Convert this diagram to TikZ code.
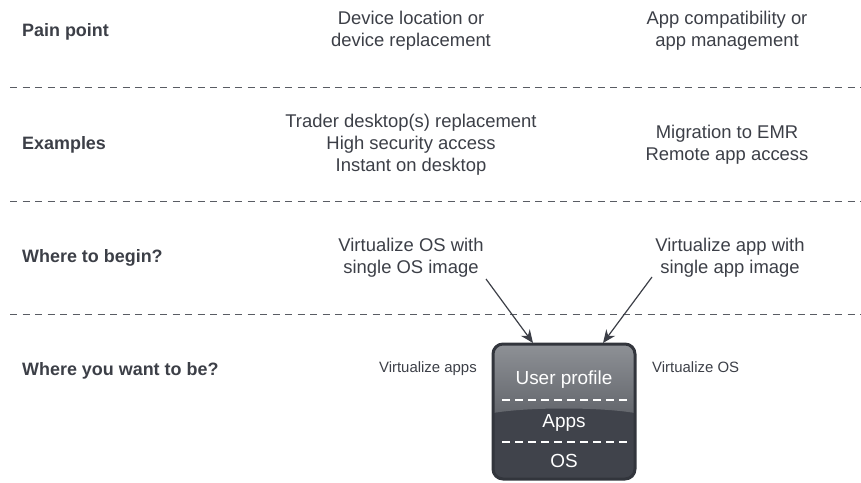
\documentclass[tikz,border=0pt]{standalone}
\usepackage{fontspec}
\setmainfont{Liberation Sans}
\usetikzlibrary{arrows.meta}

\definecolor{texto}{RGB}{60,63,71}
\definecolor{caja}{RGB}{64,67,75}
\definecolor{borde}{RGB}{50,53,60}
\definecolor{cajaclara}{RGB}{142,145,150}
\definecolor{cajamedia}{RGB}{100,103,109}

\tikzset{
  etiqueta/.style={anchor=base west, inner sep=0pt, text=texto, font=\bfseries\fontsize{18}{22}\selectfont},
  celda/.style={align=center, inner sep=0pt, text=texto, font=\fontsize{18.5}{22}\selectfont},
  notita/.style={inner sep=0pt, text=texto, font=\fontsize{15}{18}\selectfont},
  capa/.style={anchor=base, inner sep=0pt, text=white, font=\fontsize{19}{22}\selectfont},
  separador/.style={draw=texto!85, line width=0.9bp, dash pattern=on 7bp off 5.5bp},
  rayita/.style={draw=white, line width=1.3bp, dash pattern=on 8bp off 5bp},
  flecha/.style={draw=texto, line width=1.2bp, -{Stealth[length=13bp,width=11bp]}}
}

\begin{document}
\begin{tikzpicture}[x=1bp, y=-1bp]
\useasboundingbox (0,0) rectangle (861,483);

% Las etiquetas de cada fila, a la izquierda
\node[etiqueta] (dolor) at (22,36.5) {Pain point};
\node[etiqueta] (ejemplos) at (22,149.5) {Examples};
\node[etiqueta] (empezar) at (22,262.5) {Where to begin?};
\node[etiqueta] (llegar) at (22,375) {Where you want to be?};

% Las lineas discontinuas que separan filas
\draw[separador] (10,87) -- (861,87);
\draw[separador] (10,201) -- (861,201);
\draw[separador] (10,314) -- (861,314);

% Columna del SO
\node[celda] (dolorSO) at (411,31) {Device location or\\device replacement};
\node[celda] (ejemplosSO) at (411,145) {Trader desktop(s) replacement\\High security access\\Instant on desktop};
\node[celda] (empezarSO) at (411,258) {Virtualize OS with\\single OS image};

% Columna de las apps
\node[celda] (dolorApp) at (727,31) {App compatibility or\\app management};
\node[celda] (ejemplosApp) at (727,145) {Migration to EMR\\Remote app access};
\node[celda] (empezarApp) at (730,258) {Virtualize app with\\single app image};

% La caja con las capas: primero el fondo oscuro, luego el degradado de arriba
\begin{scope}
  \clip[rounded corners=10bp] (493,344) rectangle (635,479);
  \fill[caja] (493,344) rectangle (635,479);
  \shade[top color=cajaclara, bottom color=cajamedia] (493,344) -- (635,344) -- (635,413)
    .. controls (600,407) and (528,407) .. (493,413) -- cycle;
\end{scope}
\draw[borde, line width=3bp, rounded corners=10bp] (493,344) rectangle (635,479);

\node[capa] (perfil) at (564,384) {User profile};
\node[capa] (apps) at (564,427) {Apps};
\node[capa] (so) at (564,467) {OS};
\draw[rayita] (502,400) -- (627,400);
\draw[rayita] (502,442) -- (627,442);

% Notas a los lados de la caja
\node[notita, anchor=base east] (notaApps) at (477,372.5) {Virtualize apps};
\node[notita, anchor=base west] (notaSO) at (652,372.5) {Virtualize OS};

% Flechas que bajan hasta la caja
\coordinate (salidaSO) at (486,279);
\coordinate (llegadaSO) at (533,343);
\coordinate (salidaApp) at (652,277);
\coordinate (llegadaApp) at (603,343);
\draw[flecha] (salidaSO) -- (llegadaSO);
\draw[flecha] (salidaApp) -- (llegadaApp);
\end{tikzpicture}
\end{document}
